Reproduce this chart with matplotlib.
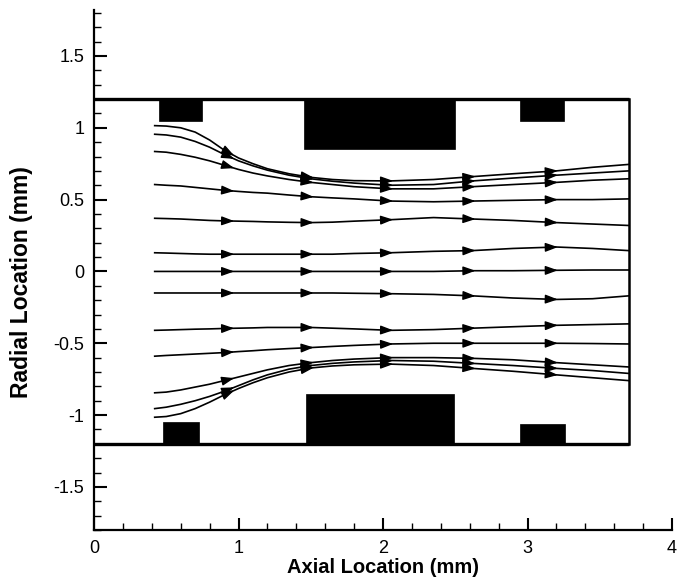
import numpy as np
import matplotlib
matplotlib.use("Agg")
import matplotlib.pyplot as plt
from matplotlib.patches import Rectangle
from matplotlib.ticker import FixedLocator, MultipleLocator, FixedFormatter

plt.rcParams['font.family'] = ['Liberation Sans', 'DejaVu Sans']
plt.rcParams['axes.unicode_minus'] = False

# ---- data ----
x_ticks = [0, 1, 2, 3, 4]
x_tick_labels = ["0", "1", "2", "3", "4"]
y_ticks = [-1.5, -1, -0.5, 0, 0.5, 1, 1.5]
y_tick_labels = ["-1.5", "-1", "-0.5", "0", "0.5", "1", "1.5"]

domain_length = 3.7
domain_radius = 1.2

# electrodes: (x_start, x_end, y_inner, y_outer)
electrodes_top = [(0.45, 0.75, 1.05, 1.2), (1.45, 2.5, 0.85, 1.2), (2.95, 3.25, 1.05, 1.2)]
electrodes_bottom = [(0.48, 0.73, -1.05, -1.2), (1.47, 2.49, -0.855, -1.2), (2.95, 3.26, -1.06, -1.2)]

# streamlines sampled at common axial positions
stream_x = [0.42, 0.5, 0.6, 0.7, 0.8, 0.9, 1.0, 1.1, 1.2, 1.35, 1.5, 1.65, 1.8, 2.05, 2.35, 2.62, 2.9, 3.2, 3.45, 3.7]
stream_t1 = [1.015, 1.012, 1.0, 0.97, 0.915, 0.845, 0.79, 0.75, 0.715, 0.68, 0.655, 0.64, 0.632, 0.63, 0.64, 0.66, 0.68, 0.70, 0.725, 0.745]
stream_t2 = [0.955, 0.95, 0.935, 0.905, 0.865, 0.815, 0.77, 0.735, 0.705, 0.67, 0.645, 0.628, 0.615, 0.60, 0.605, 0.63, 0.65, 0.67, 0.685, 0.70]
stream_t3 = [0.835, 0.83, 0.815, 0.795, 0.77, 0.74, 0.71, 0.685, 0.665, 0.64, 0.62, 0.605, 0.59, 0.575, 0.575, 0.59, 0.605, 0.62, 0.635, 0.645]
stream_l4 = [0.605, 0.60, 0.595, 0.585, 0.575, 0.565, 0.557, 0.55, 0.545, 0.532, 0.52, 0.512, 0.505, 0.49, 0.485, 0.49, 0.495, 0.50, 0.50, 0.505]
stream_l5 = [0.37, 0.368, 0.365, 0.36, 0.355, 0.352, 0.35, 0.348, 0.345, 0.342, 0.34, 0.343, 0.35, 0.36, 0.375, 0.365, 0.355, 0.34, 0.33, 0.32]
stream_l6 = [0.13, 0.128, 0.125, 0.122, 0.12, 0.12, 0.12, 0.12, 0.12, 0.12, 0.12, 0.12, 0.125, 0.13, 0.14, 0.145, 0.16, 0.17, 0.16, 0.145]
stream_l7 = [0.0, 0.0, 0.0, 0.0, 0.0, 0.0, 0.0, 0.0, 0.0, 0.0, 0.0, 0.0, 0.0, 0.0, 0.0, 0.005, 0.005, 0.008, 0.01, 0.01]
stream_l8 = [-0.15, -0.15, -0.15, -0.15, -0.15, -0.15, -0.15, -0.15, -0.15, -0.15, -0.15, -0.15, -0.152, -0.155, -0.16, -0.17, -0.185, -0.195, -0.19, -0.17]
stream_l9 = [-0.41, -0.408, -0.405, -0.402, -0.40, -0.397, -0.395, -0.393, -0.39, -0.39, -0.39, -0.395, -0.40, -0.41, -0.405, -0.395, -0.385, -0.375, -0.37, -0.365]
stream_l10 = [-0.59, -0.585, -0.58, -0.575, -0.57, -0.565, -0.558, -0.552, -0.545, -0.537, -0.53, -0.522, -0.515, -0.505, -0.50, -0.50, -0.50, -0.50, -0.502, -0.505]
stream_b1 = [-0.845, -0.84, -0.825, -0.805, -0.785, -0.76, -0.735, -0.71, -0.685, -0.655, -0.635, -0.62, -0.61, -0.60, -0.60, -0.605, -0.615, -0.635, -0.65, -0.665]
stream_b2 = [-0.955, -0.945, -0.925, -0.90, -0.87, -0.835, -0.795, -0.755, -0.72, -0.68, -0.655, -0.64, -0.63, -0.62, -0.625, -0.64, -0.655, -0.675, -0.69, -0.71]
stream_b3 = [-1.015, -1.01, -0.99, -0.955, -0.91, -0.86, -0.815, -0.775, -0.74, -0.70, -0.672, -0.658, -0.65, -0.645, -0.655, -0.675, -0.695, -0.72, -0.74, -0.76]

arrow_x = [0.95, 1.5, 2.05, 2.62, 3.19]

streamlines = [stream_t1, stream_t2, stream_t3, stream_l4, stream_l5, stream_l6, stream_l7,
               stream_l8, stream_l9, stream_l10, stream_b1, stream_b2, stream_b3]

# ---- figure ----
fig = plt.figure(figsize=(6.78, 5.84), dpi=100)
ax = fig.add_axes([94/678, 1-530/584, (672-94)/678, (530-10)/584])
ax.set_xlim(0, 4)
ax.set_ylim(-1.8, 1.82)

# domain box
ax.plot([0, domain_length], [domain_radius, domain_radius], color='k', lw=2.4, clip_on=False, solid_capstyle='butt')
ax.plot([0, domain_length], [-domain_radius, -domain_radius], color='k', lw=2.4, clip_on=False, solid_capstyle='butt')
ax.plot([domain_length, domain_length], [-domain_radius, domain_radius], color='k', lw=1.8, clip_on=False)

for (x0, x1, yi, yo) in electrodes_top + electrodes_bottom:
    ax.add_patch(Rectangle((x0, min(yi, yo)), x1 - x0, abs(yo - yi), facecolor='k', edgecolor='k', lw=0.5))

sx = np.array(stream_x)
for ys in streamlines:
    ys = np.array(ys)
    ax.plot(sx, ys, color='k', lw=1.2, solid_joinstyle='round')
    for xa in arrow_x:
        ya0 = np.interp(xa - 0.04, sx, ys)
        ya1 = np.interp(xa + 0.02, sx, ys)
        ax.annotate('', xy=(xa + 0.02, ya1), xytext=(xa - 0.04, ya0),
                    arrowprops=dict(arrowstyle='-|>,head_length=0.75,head_width=0.27',
                                    color='k', lw=1.0, shrinkA=0, shrinkB=0,
                                    mutation_scale=10))

# axes styling
for s in ['top', 'right']:
    ax.spines[s].set_visible(False)
for s in ['left', 'bottom']:
    ax.spines[s].set_linewidth(1.6)

ax.xaxis.set_major_locator(FixedLocator(x_ticks))
ax.xaxis.set_major_formatter(FixedFormatter(x_tick_labels))
ax.xaxis.set_minor_locator(MultipleLocator(0.2))
ax.yaxis.set_major_locator(FixedLocator(y_ticks))
ax.yaxis.set_major_formatter(FixedFormatter(y_tick_labels))
ax.yaxis.set_minor_locator(MultipleLocator(0.1))

ax.tick_params(which='major', direction='in', length=9, width=1.5, labelsize=13, pad=7, color='k')
ax.tick_params(which='minor', direction='in', length=5, width=1.0, color='k')
ax.tick_params(axis='y', which='both', right=False)
ax.tick_params(axis='x', which='both', top=False)

ax.set_xlabel('Axial Location (mm)', fontsize=14.5, fontweight='bold', labelpad=1)
ax.set_ylabel('Radial Location (mm)', fontsize=16.5, fontweight='bold')
ax.yaxis.set_label_coords(-0.105, 0.477)

fig.savefig('out.png', dpi=100)
